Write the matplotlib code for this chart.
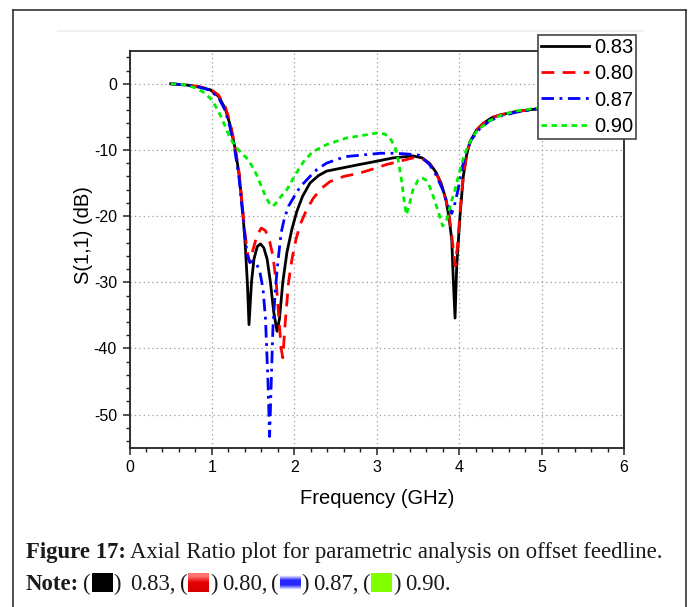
import numpy as np
import matplotlib
matplotlib.use('Agg')
import matplotlib.pyplot as plt
from matplotlib.lines import Line2D
from matplotlib.ticker import MultipleLocator

plt.rcParams['font.family'] = ['Liberation Sans', 'DejaVu Sans']
plt.rcParams['axes.unicode_minus'] = False

W, H = 697, 607

f_083 = [0.50, 0.70, 0.85, 0.98, 1.08, 1.16, 1.22, 1.28, 1.33, 1.37, 1.40, 1.43, 1.45,
         1.48, 1.51, 1.55, 1.59, 1.63, 1.67, 1.71, 1.75, 1.79, 1.82, 1.86, 1.91, 1.97,
         2.03, 2.10, 2.19, 2.29, 2.39, 2.59, 2.79, 3.00, 3.20, 3.44, 3.55, 3.64, 3.72,
         3.78, 3.84, 3.88, 3.91, 3.93, 3.95, 3.97, 4.01, 4.05, 4.09, 4.13, 4.21, 4.29,
         4.40, 4.50, 4.69, 4.94, 5.30, 5.70, 6.00]
s_083 = [0.0, -0.2, -0.5, -0.9, -1.9, -3.7, -6.2, -9.7, -13.7, -18.8, -23.5, -30.0, -36.4,
         -30.0, -26.5, -24.6, -24.2, -24.8, -26.5, -30.0, -34.5, -37.4, -35.5, -30.0, -25.5, -22.0,
         -19.3, -17.0, -15.0, -13.9, -13.2, -12.7, -12.2, -11.7, -11.2, -10.9, -11.2, -12.0, -13.4,
         -15.0, -17.5, -20.5, -23.6, -30.0, -35.4, -27.6, -20.0, -14.0, -10.8, -8.8, -7.0, -6.0,
         -5.1, -4.7, -4.2, -3.8, -3.4, -3.0, -2.8]

f_080 = [0.50, 0.70, 0.85, 0.98, 1.08, 1.16, 1.22, 1.28, 1.33, 1.37, 1.40, 1.43, 1.46,
         1.50, 1.55, 1.60, 1.65, 1.70, 1.74, 1.78, 1.81, 1.84, 1.86, 1.89, 1.93, 1.97,
         2.02, 2.07, 2.15, 2.23, 2.33, 2.43, 2.60, 2.79, 2.95, 3.12, 3.28, 3.44, 3.55,
         3.64, 3.72, 3.78, 3.84, 3.88, 3.92, 3.95, 3.98, 4.01, 4.05, 4.09, 4.13, 4.21,
         4.29, 4.40, 4.50, 4.69, 4.94, 5.30, 5.70, 6.00]
s_080 = [0.0, -0.2, -0.45, -0.8, -1.7, -3.4, -5.8, -9.4, -13.5, -18.5, -22.5, -25.5, -27.0,
         -25.0, -22.8, -21.8, -22.2, -23.8, -26.0, -30.0, -35.0, -40.0, -41.4, -36.0, -30.0, -26.6,
         -23.5, -21.3, -19.0, -17.3, -15.8, -14.8, -14.0, -13.5, -12.9, -12.2, -11.7, -11.2, -11.3,
         -12.1, -13.5, -15.2, -17.6, -20.0, -24.0, -27.5, -24.5, -19.5, -14.0, -10.8, -8.8, -7.0,
         -6.0, -5.1, -4.7, -4.2, -3.8, -3.4, -3.0, -2.8]

f_087 = [0.50, 0.70, 0.85, 0.98, 1.08, 1.16, 1.22, 1.28, 1.33, 1.37, 1.40, 1.43, 1.46,
         1.50, 1.54, 1.58, 1.62, 1.65, 1.68, 1.70, 1.72, 1.74, 1.77, 1.80, 1.84, 1.88,
         1.93, 2.00, 2.07, 2.19, 2.27, 2.39, 2.55, 2.63, 2.88, 3.04, 3.20, 3.36, 3.52,
         3.64, 3.72, 3.80, 3.86, 3.91, 3.95, 3.99, 4.04, 4.09, 4.15, 4.25, 4.37, 4.50,
         4.69, 4.94, 5.30, 5.70, 6.00]
s_087 = [0.0, -0.2, -0.5, -1.0, -2.1, -4.0, -6.6, -10.2, -14.3, -19.3, -23.0, -26.0, -27.0,
         -26.8, -27.2, -28.3, -31.0, -35.5, -45.0, -53.3, -45.0, -37.0, -31.0, -27.0, -22.5, -20.3,
         -18.5, -17.0, -15.6, -14.0, -13.0, -12.0, -11.3, -11.0, -10.7, -10.5, -10.5, -10.6, -10.8,
         -12.2, -13.8, -16.0, -18.3, -19.6, -18.0, -15.8, -12.5, -10.2, -8.4, -6.8, -5.6, -4.9,
         -4.3, -3.8, -3.4, -3.0, -2.8]

f_090 = [0.50, 0.65, 0.81, 0.90, 0.98, 1.04, 1.10, 1.16, 1.22, 1.30, 1.36, 1.42, 1.48,
         1.54, 1.60, 1.66, 1.71, 1.74, 1.78, 1.84, 1.91, 2.00, 2.11, 2.22, 2.39, 2.63,
         2.88, 3.02, 3.10, 3.16, 3.22, 3.26, 3.30, 3.33, 3.36, 3.40, 3.44, 3.50, 3.55,
         3.60, 3.64, 3.70, 3.75, 3.80, 3.85, 3.90, 3.95, 4.01, 4.07, 4.14, 4.21, 4.35,
         4.50, 4.69, 4.94, 5.30, 5.70, 6.00]
s_090 = [0.0, -0.1, -0.65, -1.3, -2.2, -3.3, -4.7, -6.4, -8.2, -9.7, -10.5, -11.2, -12.3,
         -13.7, -15.5, -17.3, -18.3, -18.5, -18.0, -17.0, -16.0, -14.0, -11.8, -10.3, -9.2, -8.2,
         -7.7, -7.4, -7.6, -8.2, -9.5, -11.5, -14.5, -17.5, -19.8, -18.0, -16.0, -14.6, -14.2,
         -14.6, -15.5, -17.5, -19.5, -21.5, -20.5, -18.0, -16.0, -13.0, -10.5, -8.6, -7.2, -5.7,
         -4.8, -4.1, -3.7, -3.3, -3.0, -2.8]

labels = ['0.83', '0.80', '0.87', '0.90']
x_ticks = [0, 1, 2, 3, 4, 5, 6]
y_ticks = [0, -10, -20, -30, -40, -50]

fig = plt.figure(figsize=(W / 100, H / 100), dpi=100)
ax = fig.add_axes([129.5 / W, 1 - 447.7 / H, (624 - 129.5) / W, (447.7 - 50.7) / H])

lw = 2.0
ax.plot(f_083, s_083, color='black', lw=lw, label=labels[0])
ax.plot(f_080, s_080, color='#ff0000', lw=lw, dashes=(4.6, 3.0), label=labels[1])
ax.plot(f_087, s_087, color='#0000ff', lw=lw, dashes=(4.5, 2.0, 1.0, 2.0), label=labels[2])
ax.plot(f_090, s_090, color='#00ee00', lw=lw, dashes=(2.0, 1.6), label=labels[3])

ax.set_xlim(0, 6)
ax.set_ylim(-55, 5)
ax.set_xticks(x_ticks)
ax.set_yticks(y_ticks)
ax.xaxis.set_minor_locator(MultipleLocator(0.2))
ax.yaxis.set_minor_locator(MultipleLocator(2))
ax.tick_params(which='major', direction='out', length=5, width=1.1, labelsize=11.5, pad=4, color='#222222')
ax.tick_params(which='minor', direction='out', length=3.2, width=1.0, color='#222222')
ax.grid(True, which='major', ls=(0, (1, 2.5)), color='#9a9a9a', lw=0.9)
for sp in ax.spines.values():
    sp.set_linewidth(1.3)
    sp.set_color('#222222')

ax.set_xlabel('Frequency (GHz)', fontsize=14.5)
ax.set_ylabel('S(1,1) (dB)', fontsize=14.5)
ax.xaxis.set_label_coords(0.5, -0.105)
ax.yaxis.set_label_coords(-0.074, 0.535)

leg = ax.legend(loc='upper left', bbox_to_anchor=(537.7 / W, 1 - 35 / H), bbox_transform=fig.transFigure,
                fontsize=14.5, handlelength=2.4, handletextpad=0.25, borderpad=0.15, labelspacing=0.36,
                borderaxespad=0, fancybox=False, framealpha=1)
leg.get_frame().set_edgecolor('#444444')
leg.get_frame().set_linewidth(1.2)

# outer frame and faint top line of the chart image
def fline(xs, ys, **kw):
    fig.add_artist(Line2D([x / W for x in xs], [1 - y / H for y in ys], transform=fig.transFigure, **kw))

fline([12.5, 12.5], [9.5, 607], color='#333333', lw=1.2)
fline([12.5, 686], [9.5, 9.5], color='#333333', lw=1.2)
fline([686, 686], [9.5, 607], color='#333333', lw=1.2)
fline([58, 643], [31, 31], color='#f0f0f0', lw=1.5)

# caption
cap_font = ['Liberation Serif', 'DejaVu Serif']
cap_size = 16.4
renderer = fig.canvas.get_renderer()


def put_text(x, y, s, bold=False):
    t = fig.text(x / W, 1 - y / H, s, ha='left', va='baseline', fontsize=cap_size,
                 family=cap_font, fontweight='bold' if bold else 'normal', color='#1a1a1a')
    bb = t.get_window_extent(renderer=renderer)
    return bb.x1


def put_square(x, y_base, colors):
    # square sits on the text baseline, about cap height tall
    sq = fig.add_axes([x / W, 1 - (y_base + 2) / H, 21 / W, 19 / H])
    grad = np.array(colors, dtype=float)[:, None, :]
    sq.imshow(grad, aspect='auto', interpolation='bilinear')
    sq.axis('off')
    return x + 21


y1, y2 = 558, 590
x = put_text(26, y1, 'Figure 17:', bold=True)
put_text(x + 4, y1, 'Axial Ratio plot for parametric analysis on offset feedline.')

sq_colors = [
    [[0, 0, 0], [0, 0, 0]],
    [[1, 0.45, 0.45], [0.9, 0, 0], [0.85, 0, 0]],
    [[1, 1, 1], [0.15, 0.15, 1], [0.15, 0.15, 1], [1, 1, 1]],
    [[0.5, 1, 0], [0.5, 1, 0]],
]
x = put_text(26, y2, 'Note:', bold=True)
for i, lab in enumerate(labels):
    x = put_text(x + 4, y2, '(')
    x = put_square(x + 1, y2, sq_colors[i])
    x = put_text(x + 1, y2, ')')
    end = '.' if i == len(labels) - 1 else ','
    x = put_text(x + (9 if i == 0 else 4), y2, lab + end)

fig.savefig('out.png', dpi=100, facecolor='white')
